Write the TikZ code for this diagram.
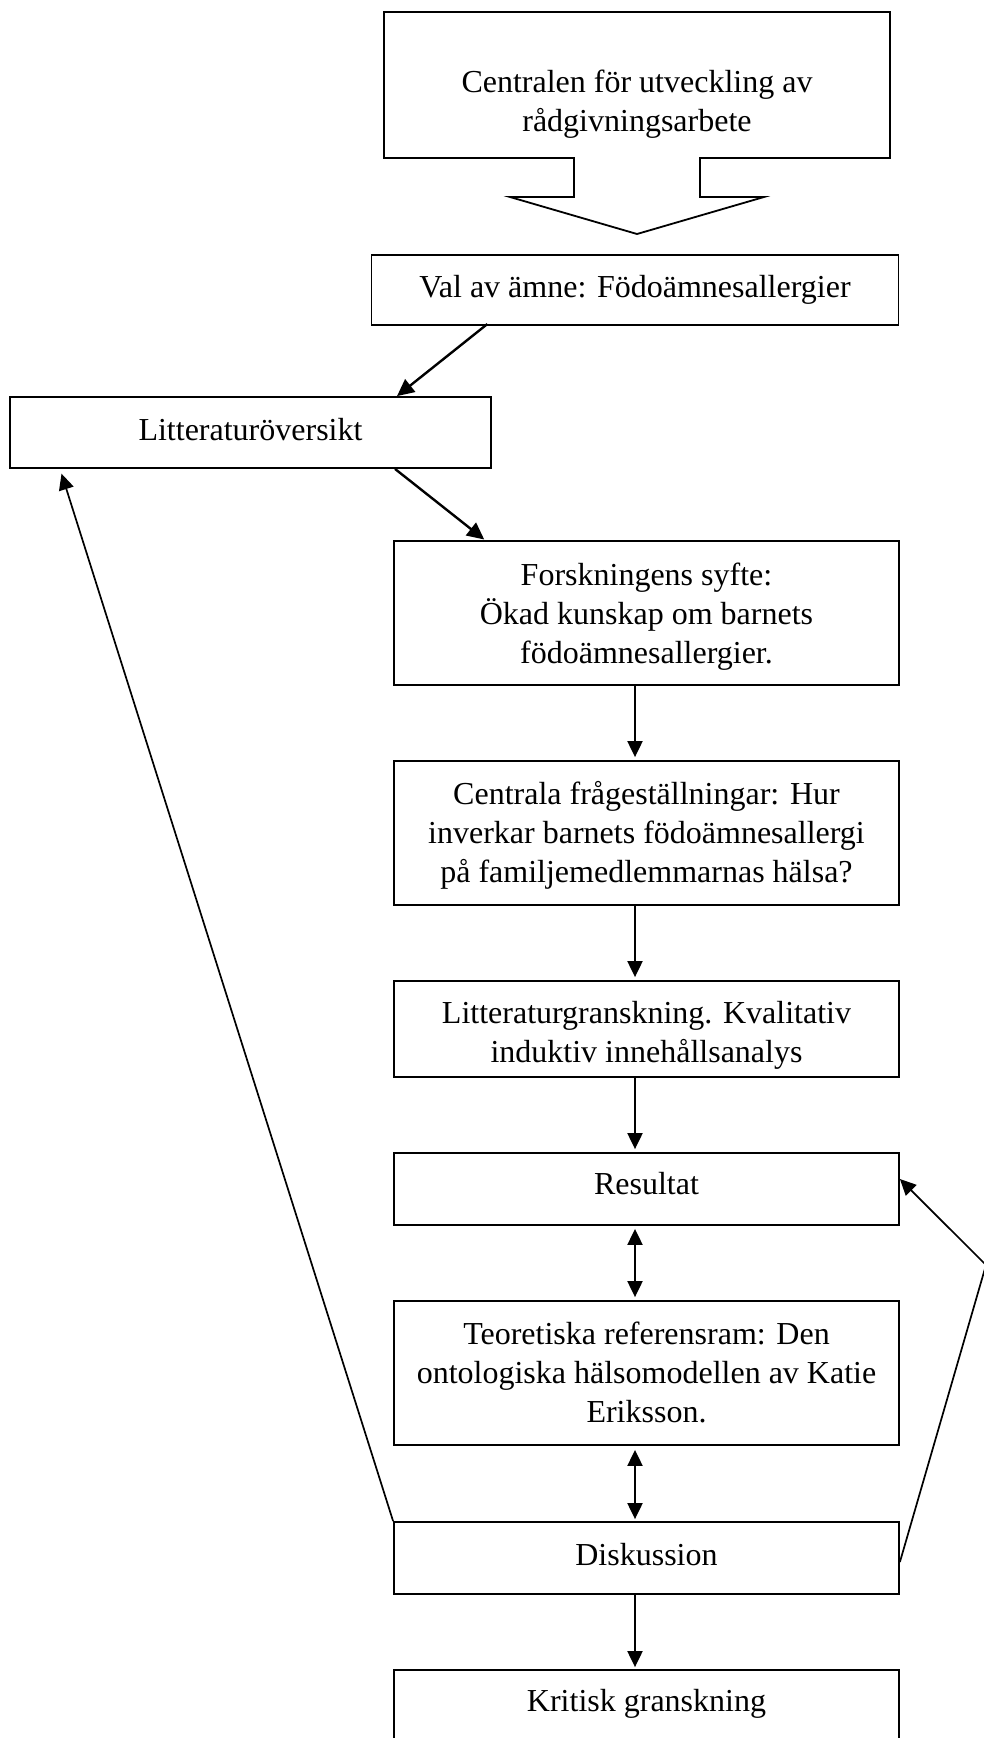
\documentclass[tikz,border=0pt]{standalone}
\usepackage{fontspec}
\setmainfont{Liberation Serif}
\usetikzlibrary{arrows.meta,calc}
\begin{document}
\begin{tikzpicture}[x=1pt,y=-1pt,
  txt/.style={align=center, inner sep=0pt, font=\fontsize{32}{38.7}\selectfont},
  lbl/.style={txt, anchor=north},
  box/.style={draw, line width=1.8pt, rectangle, inner sep=0pt},
  arr/.style={line width=2pt, -{Triangle[length=16pt,width=15pt]}},
  darr/.style={line width=2pt, {Triangle[length=16pt,width=15pt]}-{Triangle[length=16pt,width=15pt]}},
  diag/.style={line width=2.4pt, -{Triangle[length=17pt,width=16pt]}},
  longarr/.style={line width=1.7pt, line join=miter, -{Triangle[length=16pt,width=15pt]}}]
\useasboundingbox (0,0) rectangle (984,1738);
\clip (0,0) rectangle (984,1738);
\fill[white] (0,0) rectangle (984,1738);
% callout box with block arrow
\draw[line width=1.8pt, line join=miter] (384,12) -- (890,12) -- (890,158) -- (700,158) -- (700,197) -- (764,197) -- (637,234) -- (510,197) -- (574,197) -- (574,158) -- (384,158) -- cycle;
\node[txt] (top) at (637,104) {Centralen för utveckling av\\rådgivningsarbete};
% boxes
\node[box, minimum width=527pt, minimum height=70pt] (val) at (635,290) {};
\node[box, minimum width=481pt, minimum height=71pt] (lit) at (250.5,432.5) {};
\node[box, minimum width=505pt, minimum height=144pt] (forsk) at (646.5,613) {};
\node[box, minimum width=505pt, minimum height=144pt] (cent) at (646.5,833) {};
\node[box, minimum width=505pt, minimum height=96pt] (litgr) at (646.5,1029) {};
\node[box, minimum width=505pt, minimum height=72pt] (res) at (646.5,1189) {};
\node[box, minimum width=505pt, minimum height=144pt] (teo) at (646.5,1373) {};
\node[box, minimum width=505pt, minimum height=72pt] (disk) at (646.5,1558) {};
\node[box, minimum width=505pt, minimum height=76pt] (krit) at (646.5,1708) {};
% texts
\node[lbl] (valT) at ([yshift=-16pt]val.north) {\strut Val av ämne: Födoämnesallergier};
\node[lbl] (litT) at ([yshift=-17pt]lit.north) {\strut Litteraturöversikt};
\node[lbl] (forskT) at ([yshift=-18.5pt]forsk.north) {\strut Forskningens syfte:\\Ökad kunskap om barnets\\födoämnesallergier.};
\node[lbl] (centT) at ([yshift=-17.5pt]cent.north) {\strut Centrala frågeställningar: Hur\\inverkar barnets födoämnesallergi\\på familjemedlemmarnas hälsa?};
\node[lbl] (litgrT) at ([yshift=-16pt]litgr.north) {\strut Litteraturgranskning. Kvalitativ\\induktiv innehållsanalys};
\node[lbl] (resT) at ([yshift=-15pt]res.north) {\strut Resultat};
\node[lbl] (teoT) at ([yshift=-17.5pt]teo.north) {\strut Teoretiska referensram: Den\\ontologiska hälsomodellen av Katie\\Eriksson.};
\node[lbl] (diskT) at ([yshift=-17pt]disk.north) {\strut Diskussion};
\node[lbl] (kritT) at ([yshift=-15pt]krit.north) {\strut Kritisk granskning};
\coordinate (ax) at (635,0);
\coordinate (rv) at (986,1265);
% connectors
\draw[diag, shorten <=-3pt] ([xshift=-150pt]val.south) -- ([xshift=146.5pt]lit.north);
\draw[diag, shorten >=1pt] ([xshift=144.5pt]lit.south) -- ([xshift=-161.5pt]forsk.north);
\draw[arr, shorten >=3pt] (forsk.south -| ax) -- (cent.north -| ax);
\draw[arr, shorten >=3pt] (cent.south -| ax) -- (litgr.north -| ax);
\draw[arr, shorten >=3pt] (litgr.south -| ax) -- (res.north -| ax);
\draw[darr, shorten <=3pt, shorten >=3pt] (res.south -| ax) -- (teo.north -| ax);
\draw[darr, shorten <=4pt, shorten >=2pt] (teo.south -| ax) -- (disk.north -| ax);
\draw[arr, shorten >=2pt] (disk.south -| ax) -- (krit.north -| ax);
\draw[longarr, shorten >=5pt] (disk.north west) -- ([xshift=-190.5pt]lit.south);
\draw[longarr] ([yshift=-4pt]disk.east) -- (rv) -- ([yshift=10pt]res.east);
\end{tikzpicture}
\end{document}
